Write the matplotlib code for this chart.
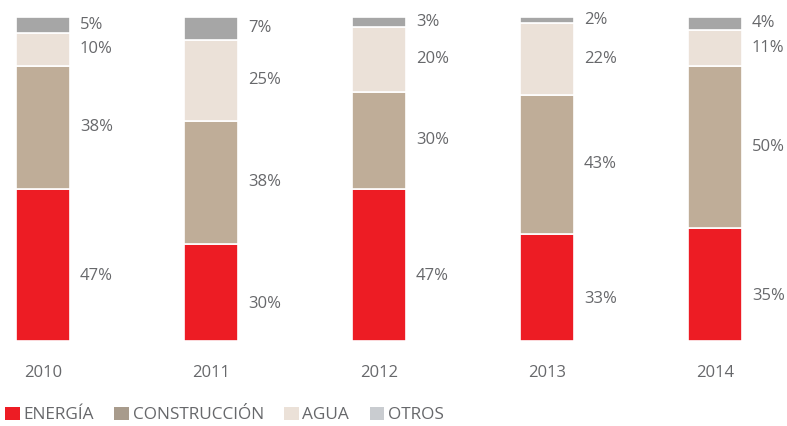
import matplotlib.pyplot as plt
from matplotlib.patches import Patch
import numpy as np

plt.rcParams['font.family'] = ['Open Sans', 'DejaVu Sans']

# ----- data -----------------------------------------------------------------
years = ["2010", "2011", "2012", "2013", "2014"]
categories = ["ENERGÍA", "CONSTRUCCIÓN", "AGUA", "OTROS"]
energia = [47, 30, 47, 33, 35]
construccion = [38, 38, 30, 43, 50]
agua = [10, 25, 20, 22, 11]
otros = [5, 7, 3, 2, 4]
# ----------------------------------------------------------------------------

bar_colors = ["#ed1c24", "#bfad98", "#ebe1d8", "#a6a6a6"]
legend_colors = ["#ed1c24", "#a89b8c", "#ebe1d8", "#c9ccd0"]
label_shift = [-3.5, 0, 0, 0]  # energía labels sit a little below the middle
text_color = "#67686b"

series = [energia, construccion, agua, otros]
x = np.arange(len(years))

fig = plt.figure(figsize=(7.87, 4.26), dpi=100)
ax = fig.add_axes([9.4 / 787, 85 / 426, 739 / 787, 324 / 426])

bottom = np.zeros(len(years))
for vals, col, dy in zip(series, bar_colors, label_shift):
    vals = np.array(vals, dtype=float)
    ax.bar(x, vals, width=0.32, bottom=bottom, color=col,
           edgecolor="white", linewidth=1.2)
    for xi, b, v in zip(x, bottom, vals):
        ax.text(xi + 0.22, b + v / 2 + dy, f"{int(v)}%", va="center", ha="left",
                fontsize=12, color=text_color)
    bottom += vals

ax.set_xlim(-0.2, 4.2)
ax.set_ylim(0, 100)
ax.set_xticks(x)
ax.set_xticklabels(years, fontsize=12, color=text_color)
ax.tick_params(axis="x", length=0, pad=17)
ax.set_yticks([])
for s in ax.spines.values():
    s.set_visible(False)

handles = [Patch(facecolor=c, edgecolor="none") for c in legend_colors]
leg = fig.legend(handles, categories, loc="lower left", bbox_to_anchor=(0.0, -0.006),
                 ncol=4, frameon=False, fontsize=12.4, handlelength=0.85,
                 handleheight=0.85, handletextpad=0.2, columnspacing=1.2,
                 borderaxespad=0.0, borderpad=0.3)
for t in leg.get_texts():
    t.set_color(text_color)

fig.savefig("out.png", dpi=100)
